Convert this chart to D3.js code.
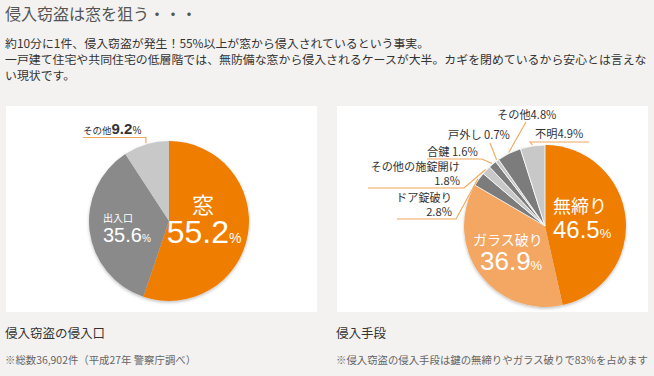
<!DOCTYPE html>
<html>
<head>
<meta charset="utf-8">
<script src="https://cdn.jsdelivr.net/npm/d3@7"></script>
<style>
  html, body { margin: 0; padding: 0; background: #f3f2f0; }
  svg { display: block; }
</style>
</head>
<body>
<div id="chart"></div>
<script>
const width = 654;
const height = 376;

// left pie: entry points
const entryLabels = ["窓", "出入口", "その他"];
const entryValues = [55.2, 35.6, 9.2];

// right pie: methods
const methodLabels = ["無締り", "ガラス破り", "ドア錠破り", "その他の施錠開け", "合鍵", "戸外し", "その他", "不明"];
const methodValues = [46.5, 36.9, 2.8, 1.8, 1.6, 0.7, 4.8, 4.9];

const titleText = "侵入窃盗は窓を狙う・・・";
const bodyLines = [
  "約10分に1件、侵入窃盗が発生！55%以上が窓から侵入されているという事実。",
  "一戸建て住宅や共同住宅の低層階では、無防備な窓から侵入されるケースが大半。カギを閉めているから安心とは言えな",
  "い現状です。"
];
const captions = ["侵入窃盗の侵入口", "侵入手段"];
const notes = ["※総数36,902件（平成27年 警察庁調べ）", "※侵入窃盗の侵入手段は鍵の無締りやガラス破りで83%を占めます"];

const JP = "'Noto Sans CJK JP', 'Noto Sans', sans-serif";
const NUM = "'Liberation Sans', Arial, sans-serif";

const ORANGE = "#ef7d00";
const LIGHT_ORANGE = "#f3a762";
const GRAY = "#8a8a8a";
const DARK_GRAY = "#7c7c7c";
const LIGHT_GRAY = "#c8c8c8";
const LEADER = "#f2a65a";

const svg = d3.select("#chart").append("svg")
  .attr("width", width)
  .attr("height", height)
  .attr("viewBox", `0 0 ${width} ${height}`);

const defs = svg.append("defs");
const shadow = defs.append("filter").attr("id", "pieShadow")
  .attr("x", "-20%").attr("y", "-20%").attr("width", "140%").attr("height", "140%");
shadow.append("feDropShadow")
  .attr("dx", 0).attr("dy", 1.5).attr("stdDeviation", 1.5)
  .attr("flood-color", "#000").attr("flood-opacity", 0.25);

// header text
svg.append("text")
  .attr("x", 5).attr("y", 20)
  .style("font-family", JP).style("font-size", "16px").style("fill", "#555")
  .text(titleText);

svg.append("g").selectAll("text")
  .data(bodyLines)
  .join("text")
  .attr("x", 5)
  .attr("y", (d, i) => 48 + i * 16)
  .style("font-family", JP).style("font-size", "11.9px").style("fill", "#333")
  .text((d) => d);

// panels
const panelX = [6, 337];
svg.append("g").selectAll("rect")
  .data(panelX)
  .join("rect")
  .attr("x", (d) => d).attr("y", 106)
  .attr("width", 311).attr("height", 206)
  .attr("fill", "#fff");

svg.append("g").selectAll("text")
  .data(captions)
  .join("text")
  .attr("x", (d, i) => panelX[i] - 1)
  .attr("y", 338)
  .style("font-family", JP).style("font-size", "12.5px").style("fill", "#333")
  .text((d) => d);

svg.append("g").selectAll("text")
  .data(notes)
  .join("text")
  .attr("x", (d, i) => panelX[i] - 1)
  .attr("y", 364)
  .style("font-family", JP).style("font-size", "10.4px").style("fill", "#666")
  .text((d) => d);

const pie = d3.pie().sort(null).value((d) => d);

function pointAt(cx, cy, r, a) {
  return [cx + r * Math.sin(a), cy - r * Math.cos(a)];
}

// ---------- left pie ----------
const L = { cx: 169, cy: 221, r: 80 };
const entryColors = [ORANGE, GRAY, LIGHT_GRAY];
const entryArcs = pie(entryValues);
const arcL = d3.arc().innerRadius(0).outerRadius(L.r);

const gL = svg.append("g").attr("transform", `translate(${L.cx},${L.cy})`);
gL.append("g").attr("filter", "url(#pieShadow)")
  .selectAll("path")
  .data(entryArcs)
  .join("path")
  .attr("d", arcL)
  .attr("fill", (d, i) => entryColors[i]);

// inner labels (offsets relative to centre)
const entryInner = [
  { dx: 34, name: 22, nameY: -8, num: 32, pct: 14, numDx: 1, numY: 22, anchor: "middle" },
  { dx: -66, name: 10, nameY: 1, num: 20, pct: 10, numDx: 0, numY: 21, anchor: "start" }
];
entryInner.forEach((o, i) => {
  gL.append("text")
    .attr("x", o.dx)
    .attr("y", o.nameY)
    .attr("text-anchor", o.anchor)
    .style("font-family", JP).style("font-size", `${o.name}px`).style("fill", "#fff")
    .text(entryLabels[i]);
  const numText = gL.append("text")
    .attr("x", o.dx + o.numDx)
    .attr("y", o.numY)
    .attr("text-anchor", o.anchor)
    .style("font-family", NUM).style("fill", "#fff");
  numText.append("tspan").style("font-size", `${o.num}px`).text(entryValues[i].toFixed(1));
  numText.append("tspan").style("font-size", `${o.pct}px`).text("%");
});

// outer label for その他
{
  const a = entryArcs[2];
  const mid = (a.startAngle + a.endAngle) / 2;
  const [px, py] = pointAt(L.cx, L.cy, L.r + 1, mid);
  svg.append("path")
    .attr("d", `M83,137.5 H${px} V${py}`)
    .attr("fill", "none").attr("stroke", LEADER).attr("stroke-width", 1.2);
  const t = svg.append("text").attr("x", 83).attr("y", 134).style("fill", "#333");
  t.append("tspan").style("font-family", JP).style("font-size", "9.5px").text(entryLabels[2]);
  t.append("tspan").style("font-family", NUM).style("font-size", "15px").style("font-weight", "bold").text(entryValues[2].toFixed(1));
  t.append("tspan").style("font-family", NUM).style("font-size", "10px").text("%");
}

// ---------- right pie ----------
const R = { cx: 545, cy: 226, r: 81 };
const methodColors = [ORANGE, LIGHT_ORANGE, DARK_GRAY, LIGHT_GRAY, DARK_GRAY, LIGHT_GRAY, DARK_GRAY, LIGHT_GRAY];
const methodArcs = pie(methodValues);
const arcR = d3.arc().innerRadius(0).outerRadius(R.r);

const gR = svg.append("g").attr("transform", `translate(${R.cx},${R.cy})`);
gR.append("g").attr("filter", "url(#pieShadow)")
  .selectAll("path")
  .data(methodArcs)
  .join("path")
  .attr("d", arcR)
  .attr("fill", (d, i) => methodColors[i])
  .attr("stroke", "#fff")
  .attr("stroke-width", (d, i) => (i >= 2 ? 0.8 : 0));

const methodInner = [
  { x: 8, nameY: -13, name: 18, numY: 12, num: 24, pct: 13 },
  { x: -72, nameY: 19, name: 14, numY: 44, num: 26, pct: 13, numX: -65 }
];
methodInner.forEach((o, i) => {
  gR.append("text")
    .attr("x", o.x).attr("y", o.nameY)
    .style("font-family", JP).style("font-size", `${o.name}px`).style("fill", "#fff")
    .text(methodLabels[i]);
  const t = gR.append("text")
    .attr("x", o.numX ?? o.x).attr("y", o.numY)
    .style("font-family", NUM).style("fill", "#fff");
  t.append("tspan").style("font-size", `${o.num}px`).text(methodValues[i].toFixed(1));
  t.append("tspan").style("font-size", `${o.pct}px`).text("%");
});

// outer labels: text lines, anchor, underline and leader elbow
const methodOuter = [
  { i: 2, lines: [[452, 202, "name"], [452, 216, "value"]], anchor: "end", path: [[397, 219], [456, 219]] },
  { i: 3, lines: [[460, 171, "name"], [460, 185, "value"]], anchor: "end", path: [[368, 188], [464, 188]] },
  { i: 4, lines: [[427, 156, "both"]], anchor: "start", path: [[427, 159], [482, 159]] },
  { i: 5, lines: [[448, 139, "both"]], anchor: "start", path: [[490, 143]] },
  { i: 6, lines: [[497, 119, "both"]], anchor: "start", path: [[526, 122]] },
  { i: 7, lines: [[535, 138, "both"]], anchor: "start", path: [[589, 142], [530, 142]] }
];

const outerG = svg.append("g");
methodOuter.forEach((o) => {
  const a = methodArcs[o.i];
  const mid = (a.startAngle + a.endAngle) / 2;
  const p = pointAt(R.cx, R.cy, R.r + 1, mid);
  const pts = [...o.path, p];
  outerG.append("path")
    .attr("d", d3.line()(pts))
    .attr("fill", "none").attr("stroke", LEADER).attr("stroke-width", 1.1);
  o.lines.forEach(([x, y, kind]) => {
    const txt = kind === "name" ? methodLabels[o.i]
      : kind === "value" ? `${methodValues[o.i].toFixed(1)}%`
      : `${methodLabels[o.i]}${o.i === 4 || o.i === 5 ? " " : ""}${methodValues[o.i].toFixed(1)}%`;
    outerG.append("text")
      .attr("x", x).attr("y", y)
      .attr("text-anchor", o.anchor)
      .style("font-family", JP).style("font-size", "11.2px").style("fill", "#333")
      .text(txt);
  });
});
</script>
</body>
</html>
